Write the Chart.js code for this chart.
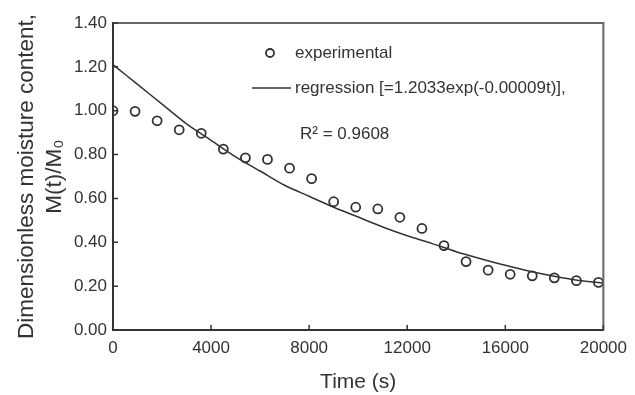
<!DOCTYPE html>
<html>
<head>
<meta charset="utf-8">
<script src="https://cdn.jsdelivr.net/npm/chart.js@4"></script>
<style>
  html, body { margin: 0; padding: 0; background: #fff; }
  #wrap { width: 635px; height: 395px; }
</style>
</head>
<body>
<div id="wrap"><canvas id="moistureChart" width="635" height="395"></canvas></div>
<script>
// Drying run: measured moisture ratio every 900 s
const expTime = [0, 900, 1800, 2700, 3600, 4500, 5400, 6300, 7200, 8100, 9000, 9900,
  10800, 11700, 12600, 13500, 14400, 15300, 16200, 17100, 18000, 18900, 19800];
const expRatio = [1.00, 0.997, 0.954, 0.913, 0.897, 0.825, 0.785, 0.778, 0.738, 0.69, 0.585, 0.56,
  0.552, 0.514, 0.463, 0.385, 0.312, 0.273, 0.254, 0.247, 0.238, 0.225, 0.217];

// Fitted curve as plotted
const fitTime = [0, 1000, 2000, 3000, 4000, 5000, 6000, 7000, 8000, 9000, 10000,
  11000, 12000, 13000, 14000, 15000, 16000, 17000, 18000, 19000, 20000];
const fitRatio = [1.21, 1.12, 1.03, 0.94, 0.865, 0.79, 0.725, 0.66, 0.61, 0.56, 0.515,
  0.47, 0.43, 0.395, 0.357, 0.325, 0.295, 0.268, 0.245, 0.226, 0.215];

const xTicks = [0, 4000, 8000, 12000, 16000, 20000];
const yTicks = [0, 0.2, 0.4, 0.6, 0.8, 1.0, 1.2, 1.4];

const legendLabels = ['experimental', 'regression [=1.2033exp(-0.00009t)],', 'R\u00b2 = 0.9608'];

const ink = '#333';
const font = 'Arial, "Liberation Sans", sans-serif';

// Frame on top/right plus inward tick marks
const framePlugin = {
  id: 'frame',
  afterDraw(chart) {
    const { ctx, chartArea: a, scales } = chart;
    ctx.save();
    ctx.strokeStyle = '#666';
    ctx.lineWidth = 2;
    ctx.beginPath();
    ctx.moveTo(a.left, a.top);
    ctx.lineTo(a.right, a.top);
    ctx.lineTo(a.right, a.bottom);
    ctx.stroke();
    ctx.strokeStyle = ink;
    ctx.lineWidth = 1.5;
    ctx.beginPath();
    scales.x.ticks.forEach(t => {
      const px = scales.x.getPixelForValue(t.value);
      ctx.moveTo(px, a.bottom);
      ctx.lineTo(px, a.bottom - 5);
    });
    scales.y.ticks.forEach(t => {
      const py = scales.y.getPixelForValue(t.value);
      ctx.moveTo(a.left, py);
      ctx.lineTo(a.left + 5, py);
    });
    ctx.stroke();
    ctx.restore();
  }
};

// Legend box inside the plot area
const insideLegend = {
  id: 'insideLegend',
  afterDraw(chart) {
    const { ctx, chartArea: a } = chart;
    const x0 = a.left + 157;
    const tx = a.left + 182;
    const rows = [a.top + 30, a.top + 65, a.top + 111];
    ctx.save();
    ctx.font = '17px ' + font;
    ctx.fillStyle = ink;
    ctx.textBaseline = 'middle';
    ctx.strokeStyle = ink;
    ctx.lineWidth = 1.8;
    ctx.beginPath();
    ctx.arc(x0, rows[0], 4, 0, Math.PI * 2);
    ctx.stroke();
    ctx.lineWidth = 1.5;
    ctx.fillText(legendLabels[0], tx, rows[0]);
    ctx.beginPath();
    ctx.moveTo(x0 - 18, rows[1]);
    ctx.lineTo(tx - 4, rows[1]);
    ctx.stroke();
    ctx.fillText(legendLabels[1], tx, rows[1]);
    ctx.fillText(legendLabels[2], tx + 5, rows[2]);
    ctx.restore();
  }
};

new Chart(document.getElementById('moistureChart'), {
  type: 'scatter',
  data: {
    datasets: [
      {
        label: legendLabels[0],
        data: expTime.map((t, i) => ({ x: t, y: expRatio[i] })),
        pointStyle: 'circle',
        pointRadius: 4.5,
        pointBorderWidth: 1.8,
        pointBackgroundColor: 'rgba(255,255,255,0)',
        pointBorderColor: ink,
        showLine: false,
        order: 1
      },
      {
        label: legendLabels[1],
        data: fitTime.map((t, i) => ({ x: t, y: fitRatio[i] })),
        showLine: true,
        borderColor: ink,
        borderWidth: 1.5,
        pointRadius: 0,
        tension: 0.3,
        order: 2
      }
    ]
  },
  options: {
    responsive: false,
    animation: false,
    layout: { padding: { left: 0, top: 23, right: 28, bottom: 0 } },
    plugins: {
      legend: { display: false },
      tooltip: { enabled: false }
    },
    scales: {
      x: {
        type: 'linear',
        min: 0,
        max: 20000,
        afterBuildTicks: s => { s.ticks = xTicks.map(v => ({ value: v })); },
        afterFit: s => { s.height = 65; },
        grid: { display: false, drawTicks: false },
        border: { display: true, color: ink, width: 2 },
        ticks: {
          color: ink,
          font: { family: font, size: 17 },
          padding: 8,
          maxRotation: 0,
          callback: v => String(v)
        },
        title: {
          display: true,
          text: 'Time (s)',
          color: ink,
          font: { family: font, size: 21 },
          padding: { top: 2, bottom: 0 }
        }
      },
      y: {
        type: 'linear',
        min: 0,
        max: 1.4,
        afterBuildTicks: s => { s.ticks = yTicks.map(v => ({ value: v })); },
        afterFit: s => { s.width = 113; },
        grid: { display: false, drawTicks: false },
        border: { display: true, color: ink, width: 2 },
        ticks: {
          color: ink,
          font: { family: font, size: 17 },
          padding: 6,
          callback: v => Number(v).toFixed(2)
        },
        title: {
          display: true,
          text: ['Dimensionless moisture content,', 'M(t)/M\u2080'],
          color: ink,
          font: { family: font, size: 22.5, lineHeight: 1.25 },
          padding: { top: 13, bottom: 0 }
        }
      }
    }
  },
  plugins: [framePlugin, insideLegend]
});
</script>
</body>
</html>
